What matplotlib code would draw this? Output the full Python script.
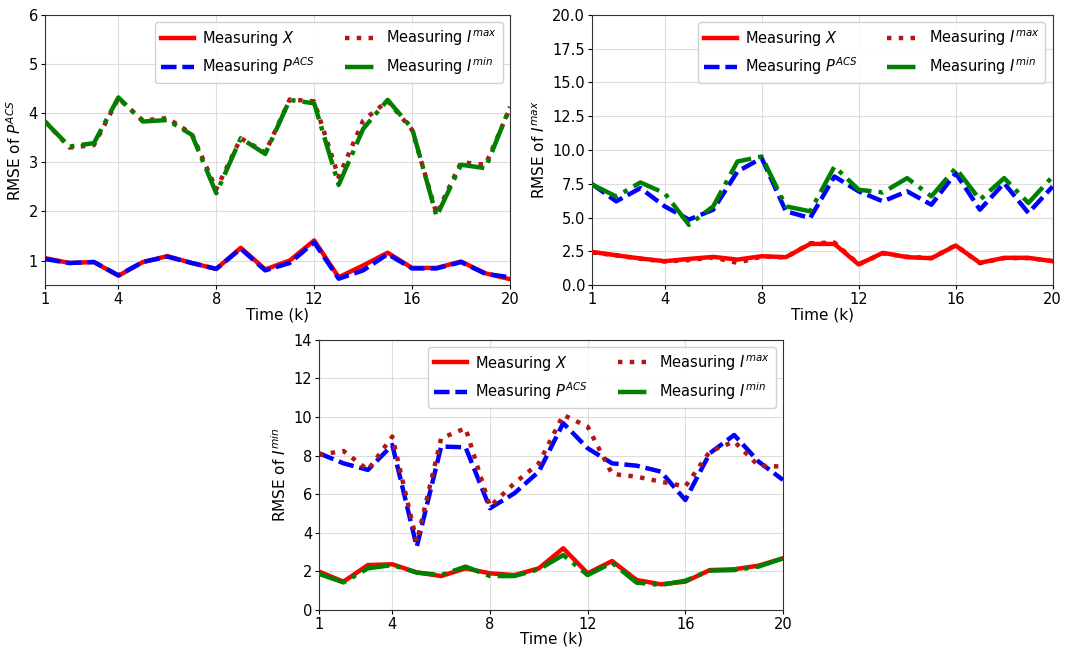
import matplotlib.pyplot as plt

# time steps
k = list(range(1, 21))

# --- panel 1: RMSE of P^ACS
p_x = [1.05, 0.95, 0.97, 0.69, 0.97, 1.09, 0.95, 0.83, 1.26, 0.82,
       1.00, 1.41, 0.66, 0.90, 1.16, 0.85, 0.85, 0.98, 0.74, 0.62]
p_pacs = [1.03, 0.95, 0.97, 0.70, 0.97, 1.08, 0.95, 0.83, 1.24, 0.80,
          0.95, 1.37, 0.63, 0.80, 1.13, 0.84, 0.84, 0.97, 0.73, 0.66]
p_imax = [3.83, 3.30, 3.35, 4.30, 3.85, 3.90, 3.58, 2.45, 3.49, 3.20,
          4.28, 4.24, 2.70, 3.85, 4.25, 3.66, 1.95, 3.00, 2.95, 4.10]
p_imin = [3.83, 3.32, 3.39, 4.32, 3.83, 3.86, 3.56, 2.37, 3.49, 3.17,
          4.27, 4.20, 2.54, 3.68, 4.27, 3.69, 1.90, 2.95, 2.88, 4.13]

# --- panel 2: RMSE of I^max
mx_x = [2.46, 2.21, 1.97, 1.77, 1.94, 2.09, 1.89, 2.14, 2.07, 3.05,
        3.05, 1.53, 2.39, 2.07, 1.99, 2.93, 1.65, 2.02, 2.02, 1.77]
mx_pacs = [7.48, 6.20, 7.18, 5.83, 4.85, 5.58, 8.41, 9.40, 5.46, 4.97,
           8.04, 6.94, 6.20, 6.94, 5.95, 8.29, 5.58, 7.55, 5.34, 7.30]
mx_imax = [2.42, 2.20, 1.95, 1.75, 1.85, 2.05, 1.65, 2.12, 2.05, 3.10,
           3.15, 1.55, 2.35, 2.10, 2.00, 2.95, 1.62, 2.00, 2.00, 1.78]
mx_imin = [7.45, 6.56, 7.60, 6.80, 4.46, 5.83, 9.15, 9.52, 5.83, 5.46,
           8.78, 7.06, 6.86, 7.92, 6.57, 8.66, 6.32, 7.92, 6.08, 8.04]

# --- panel 3: RMSE of I^min
mn_x = [1.99, 1.47, 2.33, 2.37, 1.95, 1.76, 2.16, 1.90, 1.81, 2.16,
        3.20, 1.90, 2.54, 1.56, 1.33, 1.47, 2.07, 2.11, 2.30, 2.68]
mn_pacs = [8.12, 7.60, 7.26, 8.55, 3.28, 8.47, 8.43, 5.27, 6.05, 7.17,
           9.68, 8.38, 7.60, 7.48, 7.17, 5.70, 8.12, 9.07, 7.69, 6.74]
mn_imax = [8.04, 8.24, 7.26, 8.99, 3.54, 8.90, 9.42, 5.36, 6.57, 7.60,
           10.11, 9.50, 7.05, 6.91, 6.65, 6.40, 8.21, 8.73, 7.48, 7.43]
mn_imin = [1.87, 1.43, 2.16, 2.33, 1.94, 1.81, 2.25, 1.76, 1.76, 2.11,
           2.85, 1.81, 2.45, 1.42, 1.30, 1.52, 2.04, 2.07, 2.25, 2.68]

xticks = [1, 4, 8, 12, 16, 20]
labels = [r"Measuring $X$", r"Measuring $P^{ACS}$",
          r"Measuring $I^{max}$", r"Measuring $I^{min}$"]


def panel(ax, sx, sp, smax, smin, ylabel, ylim, yticks, ytl, order):
    lines = {}
    lines["x"], = ax.plot(k, sx, color="red", lw=3.2, ls="-", label=labels[0])
    lines["p"], = ax.plot(k, sp, color="blue", lw=3.2, ls=(0, (3.5, 1.3)), label=labels[1])
    lines["max"], = ax.plot(k, smax, color="#b01818", lw=3.2, ls=(0, (1, 1.65)), label=labels[2])
    lines["min"], = ax.plot(k, smin, color="green", lw=3.2, ls=(0, (6.4, 1.6, 1, 1.6)), label=labels[3])
    # z-order as seen in the picture
    for i, key in enumerate(order):
        lines[key].set_zorder(2 + i)
    ax.set_xlim(1, 20)
    ax.set_ylim(*ylim)
    ax.set_xticks(xticks)
    ax.set_yticks(yticks)
    ax.set_yticklabels(ytl)
    ax.tick_params(labelsize=10.5, length=3, pad=2)
    ax.set_xlabel("Time (k)", fontsize=11, labelpad=0)
    ax.set_ylabel(ylabel, fontsize=11, labelpad=3)
    ax.grid(True, color="#dddddd", lw=0.8)
    ax.set_axisbelow(True)
    for s in ax.spines.values():
        s.set_color("#333333")
    ax.legend(handles=[lines["x"], lines["p"], lines["max"], lines["min"]],
              ncol=2, loc="upper right", fontsize=10.5, handlelength=2.3,
              handletextpad=0.55, columnspacing=2.0, labelspacing=0.55,
              framealpha=0.9, borderaxespad=0.5)


fig = plt.figure(figsize=(10.89, 6.48), dpi=100)

ax1 = fig.add_axes([0.0413, 0.560, 0.427, 0.417])
panel(ax1, p_x, p_pacs, p_imax, p_imin, r"RMSE of $P^{ACS}$", (0.5, 6),
      [1, 2, 3, 4, 5, 6], ["1", "2", "3", "4", "5", "6"], ["x", "p", "max", "min"])

ax2 = fig.add_axes([0.5436, 0.560, 0.423, 0.417])
yt2 = [0, 2.5, 5, 7.5, 10, 12.5, 15, 17.5, 20]
panel(ax2, mx_x, mx_pacs, mx_imax, mx_imin, r"RMSE of $I^{max}$", (0, 20),
      yt2, [f"{v:.1f}" for v in yt2], ["max", "x", "p", "min"])

ax3 = fig.add_axes([0.293, 0.0586, 0.426, 0.417])
yt3 = [0, 2, 4, 6, 8, 10, 12, 14]
panel(ax3, mn_x, mn_pacs, mn_imax, mn_imin, r"RMSE of $I^{min}$", (0, 14),
      yt3, [str(v) for v in yt3], ["x", "min", "p", "max"])

fig.savefig("out.png", dpi=100)
